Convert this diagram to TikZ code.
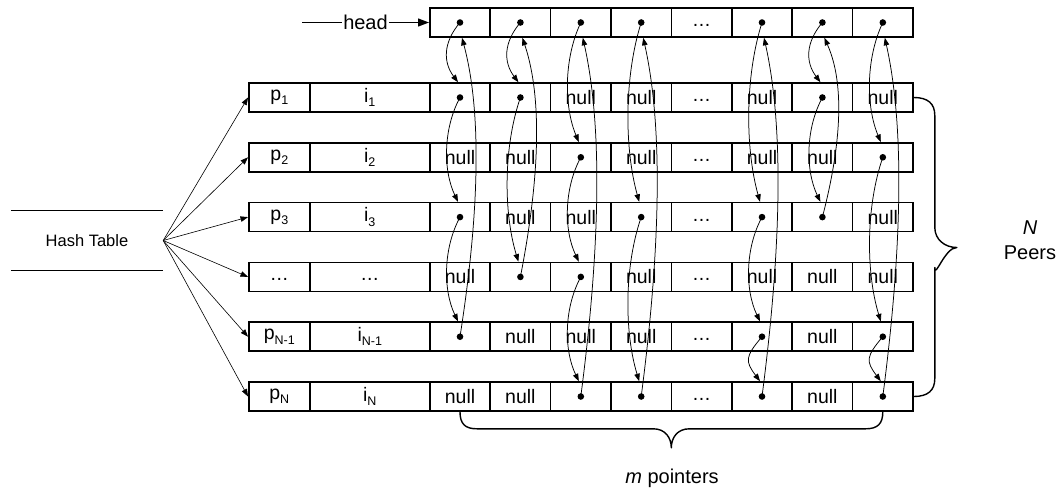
\documentclass[tikz,border=0pt]{standalone}
\usepackage{fontspec}
\setmainfont{Liberation Sans}
\usetikzlibrary{arrows.meta,calc}

% subscript in the same sans face
\newcommand\sub[1]{\raisebox{-0.22em}{\fontsize{12.5}{14}\selectfont #1}}
% filled pointer dot
\newcommand\ptr{\tikz\fill (0,0) circle (3.3pt);}
% elided entries, set a little below the middle of the slot
\newcommand\threedots{\raisebox{-4pt}[0pt][0pt]{.\kern0.5pt.\kern0.5pt.}}

\begin{document}
\begin{tikzpicture}[x=1pt,y=1pt,
  box/.style={draw, line width=1.6pt, inner sep=0pt, minimum height=29pt,
    anchor=west, font=\fontsize{19.5}{22}\selectfont},
  link/.style={line width=0.75pt, -{Triangle[length=7.5pt,width=5.5pt]}},
  brace/.style={line width=1.4pt, line join=round},
  tag/.style={font=\fontsize{20}{25}\selectfont, align=center, inner sep=1pt}]
\useasboundingbox (0,0) rectangle (1059,-493);

% head row of list heads
\foreach \t [count=\col] in {\ptr,\ptr,\ptr,\ptr,\threedots,\ptr,\ptr,\ptr}
  \node[box, minimum width=60.4pt] (r0c\col) at ({429+60.4*(\col-1)},-22.5) {\t};

% peer records: p, i and m pointer slots
\foreach \r/\yy/\pl/\il/\lst in {
  1/97.5/{p\sub{1}}/{i\sub{1}}/{\ptr,\ptr,null,null,\threedots,null,\ptr,null},
  2/157.3/{p\sub{2}}/{i\sub{2}}/{null,null,\ptr,null,\threedots,null,null,\ptr},
  3/217.1/{p\sub{3}}/{i\sub{3}}/{\ptr,null,null,\ptr,\threedots,\ptr,\ptr,null},
  4/276.9/{\threedots}/{\threedots}/{null,\ptr,\ptr,null,\threedots,null,null,null},
  5/336.7/{p\sub{N-1}}/{i\sub{N-1}}/{\ptr,null,null,null,\threedots,\ptr,null,\ptr},
  6/396.5/{p\sub{N}}/{i\sub{N}}/{null,null,\ptr,\ptr,\threedots,\ptr,null,\ptr}}{
  \node[box, minimum width=61pt] (r\r p) at (248,-\yy) {\pl};
  \node[box, minimum width=120pt] (r\r i) at (309,-\yy) {\il};
  \foreach \t [count=\col] in \lst
    \node[box, minimum width=60.4pt] (r\r c\col) at ({429+60.4*(\col-1)},-\yy) {\t};
}

% head pointer
\coordinate (headtail) at (302,-22.5);
\node[tag] (headlbl) at (365.5,-22.5) {head};
\draw[line width=1.3pt] (headtail) -- (headlbl.west);
\draw[line width=1.3pt, -{Triangle[length=11pt,width=8pt]}] (headlbl.east) -- (r0c1.west);

% hash table
\node[minimum width=152pt, minimum height=59pt, inner sep=0pt,
  font=\fontsize{16.5}{19}\selectfont] (hash) at (87,-240.5) {Hash Table};
\draw[line width=1.2pt] (hash.north west) -- (hash.north east);
\draw[line width=1.2pt] (hash.south west) -- (hash.south east);
\foreach \r in {1,...,6}
  \draw[link, line width=0.6pt] (hash.east) -- (r\r p.west);

% forward links down each column
\foreach \col/\src/\dst in {1/0/1, 1/1/3, 1/3/5, 2/0/1, 2/1/4,
    3/0/2, 3/2/4, 3/4/6, 4/0/3, 4/3/6, 6/0/3, 6/3/5, 6/5/6,
    7/0/1, 7/1/3, 8/0/2, 8/2/5, 8/5/6}
  \draw[link] let \p1=(r\src c\col.center), \p2=(r\dst c\col.north),
      \n1={max(20,0.3*(\y1-\y2))} in
    (\p1) .. controls +(-17,-\n1) and +(-15,\n1) .. ($(\p2)+(-2,0)$);

% links from the last peer back to the head
\foreach \col/\src in {1/5, 2/4, 3/6, 4/6, 6/6, 7/3, 8/6}
  \draw[link] let \p1=(r\src c\col.center), \p2=(r0c\col.south),
      \n1={0.3*(\y2-\y1)} in
    (\p1) .. controls +(14,\n1) and +(24,-\n1) .. ($(\p2)+(2,0)$);

% brace over the N peers
\draw[brace] (r1c8.east) .. controls +(14,0) and +(0,12) .. ++(21,-18)
  -- ++(0,-112)
  .. controls +(0,-12) and +(-12,0) .. ++(22,-20)
  .. controls +(-12,0) and +(0,-12) .. ++(-22,-20)
  -- ++(0,-111)
  .. controls +(0,-12) and +(14,0) .. (r6c8.east);
\node[tag] (peerlbl) at (1030,-240.5) {\textit{N}\\Peers};

% brace under the m pointers
\draw[brace] (r6c1.south) .. controls +(0,-12) and +(-12,0) .. ++(17,-17)
  -- ++(176.3,0)
  .. controls +(12,0) and +(0,10) .. ++(18,-19)
  .. controls +(0,10) and +(-12,0) .. ++(18,19)
  -- ++(176.3,0)
  .. controls +(12,0) and +(0,-12) .. (r6c8.south);
\node[tag] (ptrlbl) at (672,-478) {\textit{m} pointers};
\end{tikzpicture}
\end{document}
